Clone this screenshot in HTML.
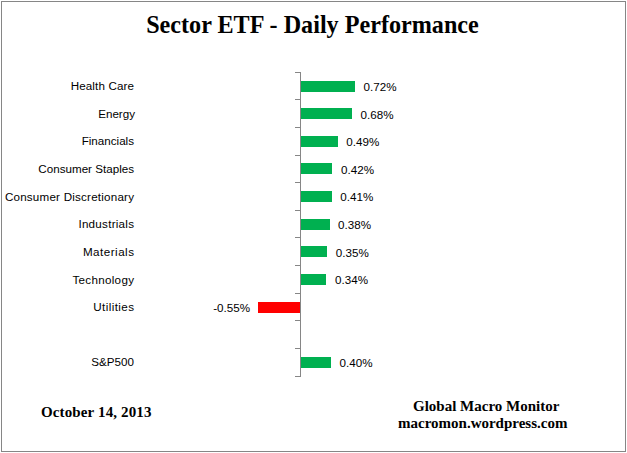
<!DOCTYPE html>
<html><head><meta charset="utf-8">
<style>
html,body{margin:0;padding:0;background:#fff;}
body{width:627px;height:453px;position:relative;overflow:hidden;}
.frame{position:absolute;left:1px;top:1px;width:623px;height:449px;border:1px solid #868686;}
.title{position:absolute;left:-1px;top:10px;width:627px;transform:scaleX(0.966);transform-origin:313px 0;text-align:center;font-family:"Liberation Serif",serif;font-weight:bold;font-size:25px;line-height:30px;color:#000;white-space:nowrap;}
.tk{position:absolute;left:295px;width:5px;height:1px;background:#868686;}
.axis{position:absolute;left:300px;top:72px;width:1px;height:305px;background:#868686;}
.bar{position:absolute;height:11px;}
.g{background:#00B050;}
.r{background:#FF0000;}
.lb{position:absolute;left:0;width:134px;text-align:right;font-family:"Liberation Sans",sans-serif;font-size:11.64px;line-height:16px;color:#000;white-space:nowrap;}
.vl{position:absolute;font-family:"Liberation Sans",sans-serif;font-size:11.64px;line-height:16px;color:#000;white-space:nowrap;}
.vr{position:absolute;width:100px;text-align:right;font-family:"Liberation Sans",sans-serif;font-size:11.64px;line-height:16px;color:#000;white-space:nowrap;}
.ft{position:absolute;font-family:"Liberation Serif",serif;font-weight:bold;font-size:15px;line-height:18px;color:#000;white-space:nowrap;}
</style></head><body>
<div class="frame"></div>
<div class="title">Sector ETF - Daily Performance</div>
<div class="axis"></div>
<div class="tk" style="top:72px"></div>
<div class="tk" style="top:99px"></div>
<div class="tk" style="top:127px"></div>
<div class="tk" style="top:155px"></div>
<div class="tk" style="top:182px"></div>
<div class="tk" style="top:210px"></div>
<div class="tk" style="top:237px"></div>
<div class="tk" style="top:265px"></div>
<div class="tk" style="top:293px"></div>
<div class="tk" style="top:320px"></div>
<div class="tk" style="top:348px"></div>
<div class="tk" style="top:376px"></div>
<div class="lb" style="top:77.8px;letter-spacing:0.13px;width:134.13px">Health Care</div>
<div class="bar g" style="top:81px;left:301px;width:54px"></div>
<div class="vl" style="top:78.8px;left:363.50px">0.72%</div>
<div class="lb" style="top:105.5px;letter-spacing:0px;width:135px">Energy</div>
<div class="bar g" style="top:108px;left:301px;width:51px"></div>
<div class="vl" style="top:106.5px;left:360.50px">0.68%</div>
<div class="lb" style="top:133.1px;letter-spacing:0px;width:134px">Financials</div>
<div class="bar g" style="top:136px;left:301px;width:37px"></div>
<div class="vl" style="top:134.1px;left:346.25px">0.49%</div>
<div class="lb" style="top:160.7px;letter-spacing:0px;width:134px">Consumer Staples</div>
<div class="bar g" style="top:163px;left:301px;width:31px"></div>
<div class="vl" style="top:161.7px;left:341.00px">0.42%</div>
<div class="lb" style="top:189.4px;letter-spacing:0.21px;width:134.21px">Consumer Discretionary</div>
<div class="bar g" style="top:191px;left:301px;width:31px"></div>
<div class="vl" style="top:189.4px;left:340.25px">0.41%</div>
<div class="lb" style="top:216.0px;letter-spacing:0.26px;width:134.26px">Industrials</div>
<div class="bar g" style="top:219px;left:301px;width:29px"></div>
<div class="vl" style="top:217.0px;left:338.00px">0.38%</div>
<div class="lb" style="top:243.6px;letter-spacing:0.49px;width:134.49px">Materials</div>
<div class="bar g" style="top:246px;left:301px;width:26px"></div>
<div class="vl" style="top:244.6px;left:335.75px">0.35%</div>
<div class="lb" style="top:272.3px;letter-spacing:0.31px;width:134.31px">Technology</div>
<div class="bar g" style="top:274px;left:301px;width:25px"></div>
<div class="vl" style="top:272.3px;left:335.00px">0.34%</div>
<div class="lb" style="top:298.9px;letter-spacing:0.41px;width:134.41px">Utilities</div>
<div class="bar r" style="top:302px;left:258px;width:42px"></div>
<div class="vr" style="top:299.9px;left:150px">-0.55%</div>
<div class="lb" style="top:354.2px;letter-spacing:0px;width:134px">S&amp;P500</div>
<div class="bar g" style="top:357px;left:301px;width:30px"></div>
<div class="vl" style="top:355.2px;left:339.50px">0.40%</div>
<div class="ft" style="left:41px;top:403px;letter-spacing:0.13px">October 14, 2013</div>
<div class="ft" style="left:413px;top:397px">Global Macro Monitor</div>
<div class="ft" style="left:398px;top:414px">macromon.wordpress.com</div>
</body></html>
